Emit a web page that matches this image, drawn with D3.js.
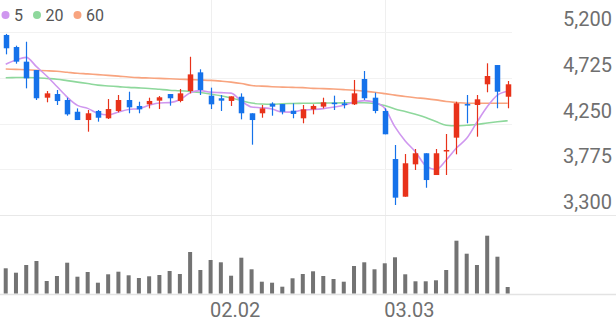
<!DOCTYPE html>
<html>
<head>
<meta charset="utf-8">
<script src="https://cdn.jsdelivr.net/npm/d3@7"></script>
<style>
  html, body { margin: 0; padding: 0; background: #fff; }
  svg { display: block; font-family: Roboto, "Noto Sans", sans-serif; }
</style>
</head>
<body>
<div id="chart"></div>
<script>
// daily candles, 2026-01-05 .. 2026-03-19
var dates = [
  "2026-01-05","2026-01-06","2026-01-07","2026-01-08","2026-01-09",
  "2026-01-12","2026-01-13","2026-01-14","2026-01-15","2026-01-16",
  "2026-01-19","2026-01-20","2026-01-21","2026-01-22","2026-01-23",
  "2026-01-26","2026-01-27","2026-01-28","2026-01-29","2026-01-30",
  "2026-02-02","2026-02-03","2026-02-04","2026-02-05","2026-02-06",
  "2026-02-09","2026-02-10","2026-02-11","2026-02-12","2026-02-13",
  "2026-02-19","2026-02-20","2026-02-23","2026-02-24","2026-02-25",
  "2026-02-26","2026-02-27","2026-03-03","2026-03-04","2026-03-05",
  "2026-03-06","2026-03-09","2026-03-10","2026-03-11","2026-03-12",
  "2026-03-13","2026-03-16","2026-03-17","2026-03-18","2026-03-19"
];
var open  = [5169,5044,4892,4805,4518,4556,4494,4372,4286,4380,4304,4380,4494,4432,4449,4487,4556,4484,4587,4781,
             4539,4512,4484,4528,4356,4356,4456,4452,4383,4304,4397,4425,4466,4459,4449,4712,4518,4380,3881,3490,
             3826,3941,3715,3964,4103,4452,4442,4657,4857,4528];
var high  = [5180,5058,5099,4805,4587,4598,4518,4407,4390,4390,4504,4546,4580,4476,4518,4535,4556,4608,4943,4813,
             4622,4546,4532,4563,4356,4442,4470,4452,4459,4442,4449,4518,4539,4494,4702,4795,4570,4407,4027,3933,
             3985,3941,3985,4141,4476,4546,4546,4875,4857,4691];
var low   = [4968,4871,4615,4494,4470,4442,4331,4286,4165,4269,4297,4366,4356,4356,4407,4400,4435,4470,4563,4546,
             4400,4380,4432,4293,4030,4310,4331,4345,4304,4252,4345,4407,4390,4407,4442,4494,4356,4138,3404,3490,
             3767,3583,3715,3715,3930,4252,4113,4574,4408,4408];
var close = [5031,4892,4719,4512,4563,4483,4345,4286,4356,4310,4400,4494,4418,4397,4484,4522,4512,4563,4760,4598,
             4449,4487,4532,4356,4286,4407,4425,4372,4349,4397,4432,4470,4452,4442,4563,4512,4380,4138,3480,3837,
             3941,3663,3941,3975,4460,4442,4501,4743,4580,4657];
var volume = [252000,208000,285000,325000,125000,175000,308000,168000,215000,108000,
              192000,218000,182000,155000,172000,185000,225000,195000,415000,235000,
              335000,312000,178000,358000,242000,118000,108000,68000,152000,195000,
              222000,175000,145000,118000,275000,312000,242000,302000,362000,192000,
              122000,122000,132000,235000,528000,398000,285000,578000,368000,65000];

// moving averages as shown
var ma5  = [4865,4909,4937,4840,4743,4634,4524,4438,4407,4356,4339,4369,4396,4404,4439,4463,4467,4496,4568,4591,
            4576,4571,4565,4484,4422,4414,4401,4369,4368,4390,4395,4404,4420,4439,4472,4488,4470,4407,4215,4069,
            3955,3812,3772,3871,3996,4096,4264,4424,4545,4585];
var ma20 = [4725,4727,4728,4725,4718,4710,4695,4680,4665,4648,4640,4633,4625,4620,4614,4605,4596,4590,4582,4572,
            4556,4538,4515,4488,4462,4452,4450,4455,4458,4460,4461,4462,4463,4465,4466,4466,4458,4437,4400,4375,
            4345,4312,4270,4232,4226,4232,4240,4255,4268,4279];
var ma60 = [4816,4812,4808,4803,4798,4792,4782,4772,4765,4757,4750,4742,4733,4726,4722,4718,4714,4710,4706,4702,
            4698,4690,4680,4665,4645,4638,4632,4628,4625,4622,4615,4612,4608,4602,4595,4585,4574,4560,4545,4530,
            4518,4508,4495,4478,4468,4460,4460,4460,4460,4460];

var priceTicks = [3300, 3775, 4250, 4725, 5200];
var dateTicks = ["2026-02-02", "2026-03-03"];
var dateTickLabels = ["02.02", "03.03"];

var maNames = ["5", "20", "60"];
var maColors = ["#cf97ef", "#8ed89c", "#f8a47f"];

var width = 616;
var height = 321;

var upColor = "#e8321a";
var downColor = "#1572ea";

var x = d3.scaleBand()
    .domain(dates)
    .range([0.6, 512.8]);

var y = d3.scaleLinear()
    .domain([3300, 5200])
    .range([215, 32]);

var yVol = d3.scaleLinear()
    .domain([0, 600000])
    .range([293.5, 233.5]);

function cx(d) { return x(d) + x.bandwidth() / 2; }

var svg = d3.select("#chart")
  .append("svg")
    .attr("width", width)
    .attr("height", height);

// vertical grid
svg.append("g")
  .selectAll("line")
    .data(dateTicks)
    .enter()
      .append("line")
      .attr("x1", function(d) { return Math.round(cx(d)) + 0.5; })
      .attr("x2", function(d) { return Math.round(cx(d)) + 0.5; })
      .attr("y1", 0)
      .attr("y2", yVol(0))
      .style("stroke", "#efefef");

// horizontal grid
svg.append("g")
  .selectAll("line")
    .data(priceTicks)
    .enter()
      .append("line")
      .attr("x1", 0)
      .attr("x2", function(d) { return d === 3300 ? width : 512; })
      .attr("y1", function(d) { return Math.round(y(d)) + 0.5; })
      .attr("y2", function(d) { return Math.round(y(d)) + 0.5; })
      .style("stroke", function(d) { return d === 3300 ? "#e8e8e8" : "#f2f2f2"; });

svg.append("line")
    .attr("x1", 0).attr("x2", width)
    .attr("y1", Math.round(yVol(0)) + 0.5).attr("y2", Math.round(yVol(0)) + 0.5)
    .style("stroke", "#e3e3e3")
    .style("stroke-width", 1.5);

// price labels
svg.append("g")
  .selectAll("text")
    .data(priceTicks)
    .enter()
      .append("text")
      .attr("x", 612)
      .attr("y", function(d) { return y(d) - 6; })
      .attr("text-anchor", "end")
      .style("font-size", "20px")
      .style("fill", "#6f6f6f")
      .text(function(d) { return d3.format(",")(d); });

// date labels
svg.append("g")
  .selectAll("text")
    .data(dateTicks)
    .enter()
      .append("text")
      .attr("x", function(d) { return cx(d) - 0.5; })
      .attr("y", 316.5)
      .style("font-size", "20px")
      .style("fill", "#6f6f6f")
      .text(function(d, i) { return dateTickLabels[i]; });

// volume
svg.append("g")
  .selectAll("rect")
    .data(dates)
    .enter()
      .append("rect")
      .attr("x", function(d) { return cx(d) - 2; })
      .attr("width", 4)
      .attr("y", function(d, i) { return yVol(volume[i]); })
      .attr("height", function(d, i) { return yVol(0) - yVol(volume[i]); })
      .style("fill", "#737373");

// moving average lines
var maSeries = [ma5, ma20, ma60];
var line = d3.line()
    .x(function(d, i) { return cx(dates[i]); })
    .y(function(d) { return y(d); })
    .curve(d3.curveMonotoneX);

svg.append("g")
  .selectAll("path")
    .data([2, 1, 0])
    .enter()
      .append("path")
      .attr("d", function(k) { return line(maSeries[k]); })
      .style("fill", "none")
      .style("stroke", function(k) { return maColors[k]; })
      .style("stroke-width", 1.6);

// candles
var candle = svg.append("g")
  .selectAll("g")
    .data(dates)
    .enter()
      .append("g");

function candleColor(i) { return close[i] >= open[i] ? upColor : downColor; }

candle.append("line")
    .attr("x1", function(d) { return Math.round(cx(d)) + 0.5; })
    .attr("x2", function(d) { return Math.round(cx(d)) + 0.5; })
    .attr("y1", function(d, i) { return y(high[i]); })
    .attr("y2", function(d, i) { return y(low[i]); })
    .style("stroke", function(d, i) { return candleColor(i); })
    .style("stroke-width", 1.2);

candle.append("rect")
    .attr("x", function(d) { return Math.round(cx(d)) + 0.5 - 2.75; })
    .attr("width", 5.5)
    .attr("y", function(d, i) { return y(Math.max(open[i], close[i])); })
    .attr("height", function(d, i) {
      return Math.max(1.5, Math.abs(y(open[i]) - y(close[i])));
    })
    .style("fill", function(d, i) { return candleColor(i); });

// legend
var legend = svg.append("g");
var lx = 5.5;
maNames.forEach(function(name, k) {
  legend.append("circle")
      .attr("cx", lx)
      .attr("cy", 15)
      .attr("r", 4)
      .style("fill", maColors[k]);
  var t = legend.append("text")
      .attr("x", lx + 8.5)
      .attr("y", 20.8)
      .style("font-size", "16px")
      .style("fill", "#555")
      .text(name);
  lx = lx + 8.5 + t.node().getComputedTextLength() + 14;
});
</script>
</body>
</html>
